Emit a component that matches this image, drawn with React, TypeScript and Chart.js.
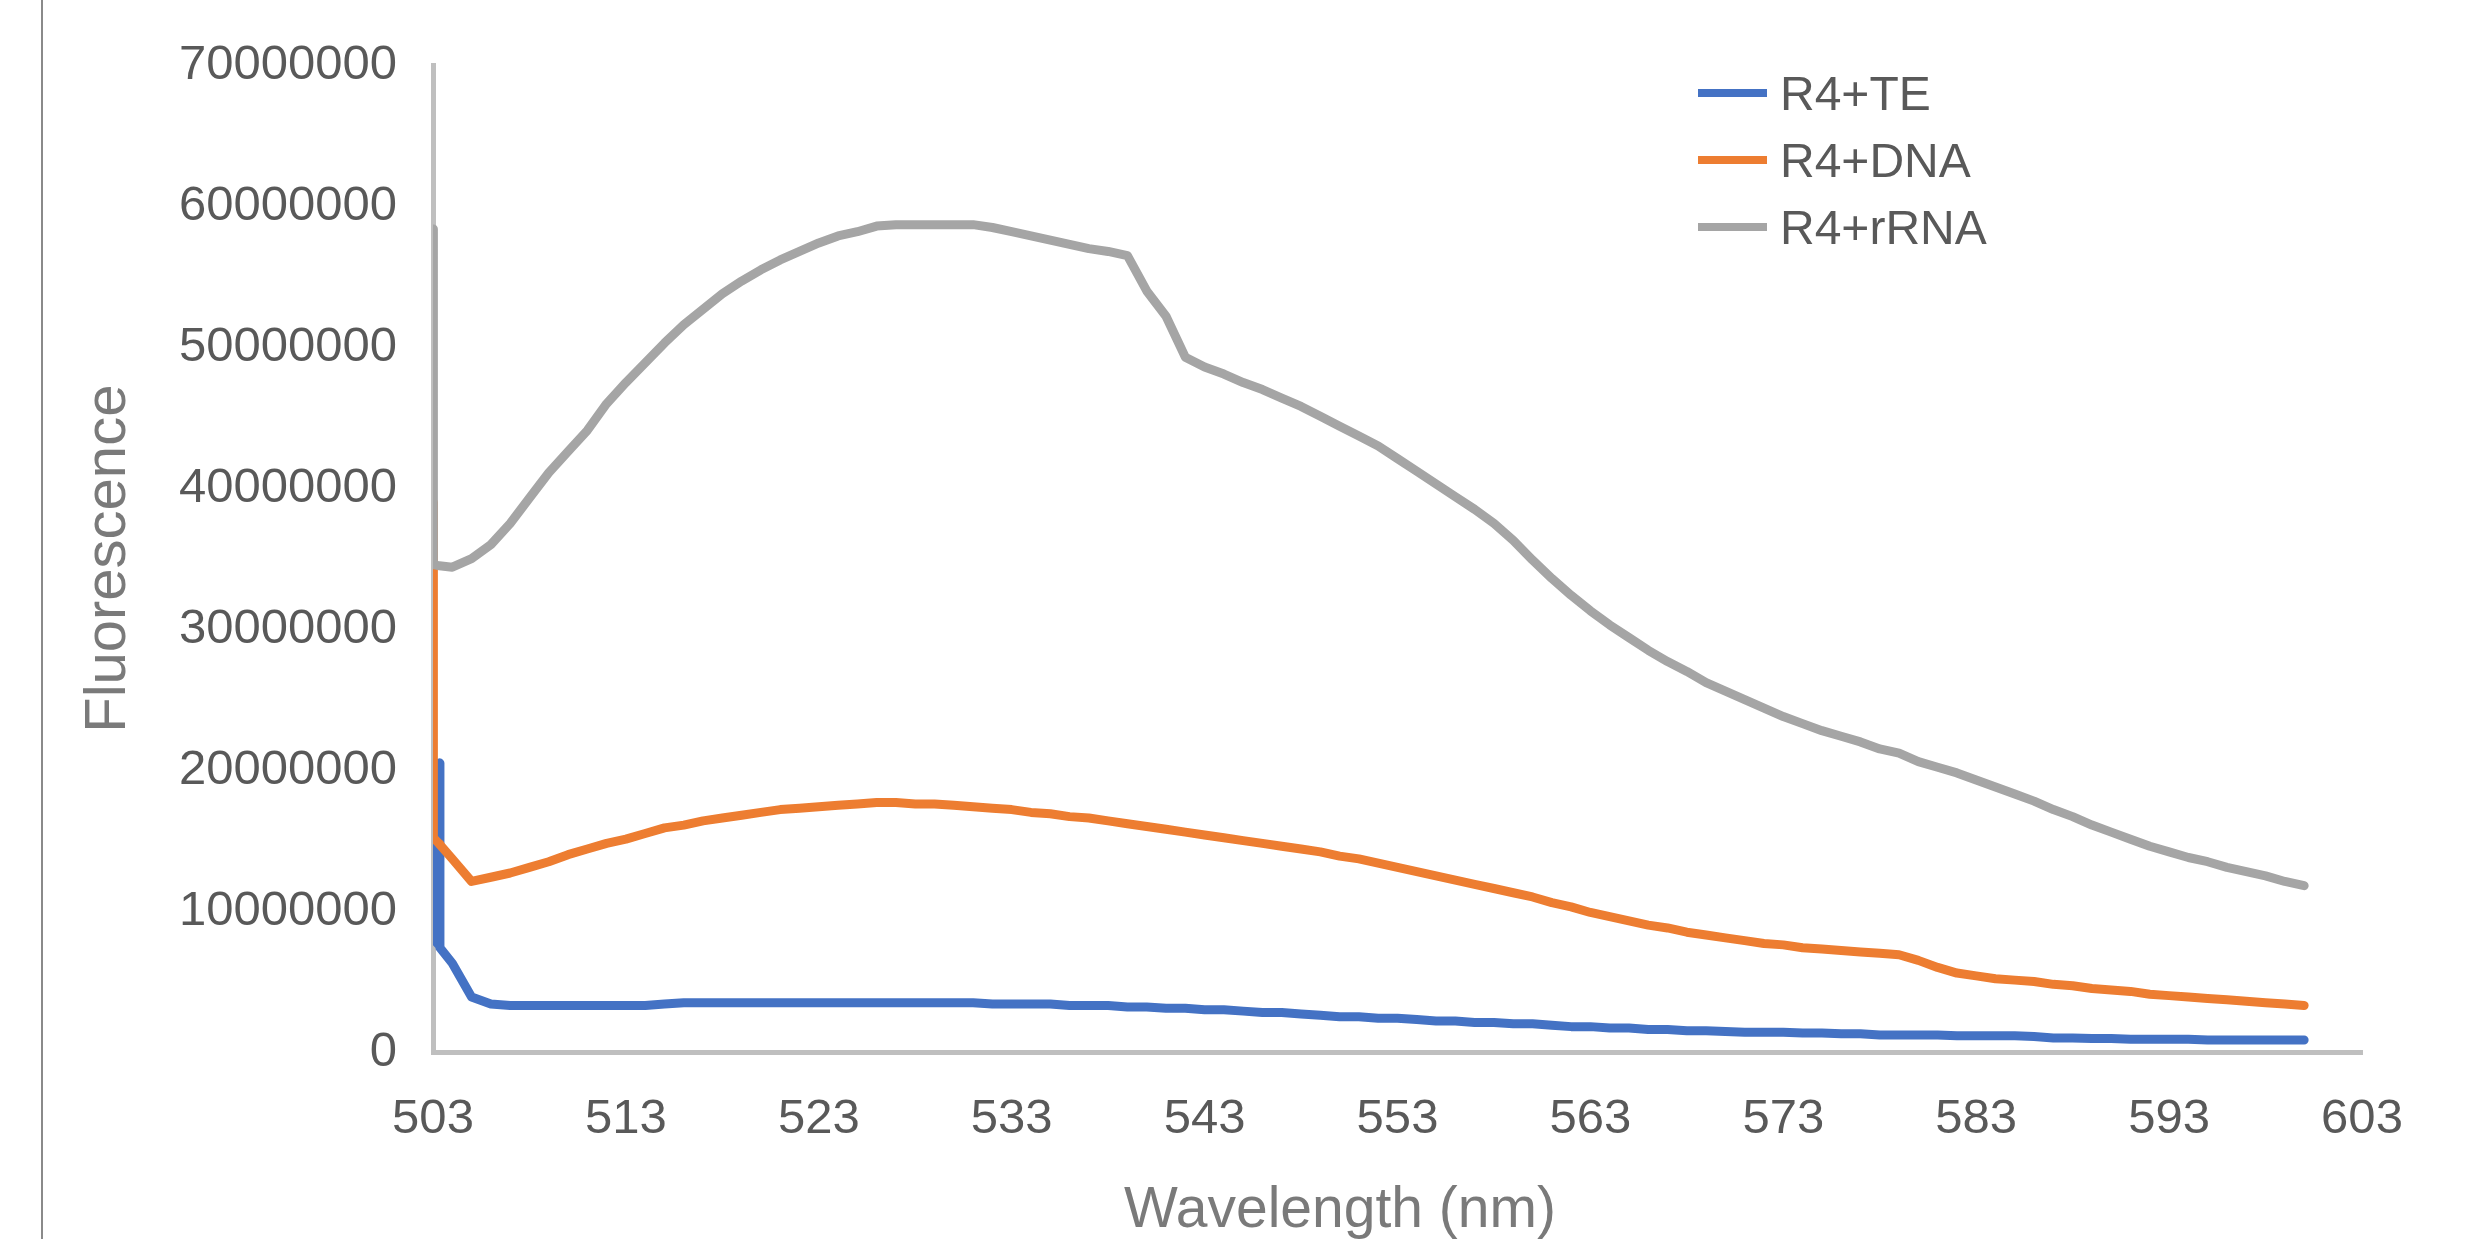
import React, { useEffect, useRef } from "react";
import { Chart, registerables } from "chart.js";

Chart.register(...registerables);

// Wavelength (nm) shared by all series
const wavelengths = [
  503, 503.02, 503.3, 503.33, 503.36,
  504, 505, 506, 507, 508, 509, 510, 511, 512, 513,
  514, 515, 516, 517, 518, 519, 520, 521, 522, 523,
  524, 525, 526, 527, 528, 529, 530, 531, 532, 533,
  534, 535, 536, 537, 538, 539, 540, 541, 542, 543,
  544, 545, 546, 547, 548, 549, 550, 551, 552, 553,
  554, 555, 556, 557, 558, 559, 560, 561, 562, 563,
  564, 565, 566, 567, 568, 569, 570, 571, 572, 573,
  574, 575, 576, 577, 578, 579, 580, 581, 582, 583,
  584, 585, 586, 587, 588, 589, 590, 591, 592, 593,
  594, 595, 596, 597, 598, 599, 600,
];

const seriesNames = ["R4+TE", "R4+DNA", "R4+rRNA"];

// Fluorescence values in millions
const teValues = [
  15.5, 8.0, 7.6, 20.5, 7.4,
  6.3, 3.9, 3.4, 3.3, 3.3, 3.3, 3.3, 3.3, 3.3, 3.3,
  3.3, 3.4, 3.5, 3.5, 3.5, 3.5, 3.5, 3.5, 3.5, 3.5,
  3.5, 3.5, 3.5, 3.5, 3.5, 3.5, 3.5, 3.5, 3.4, 3.4,
  3.4, 3.4, 3.3, 3.3, 3.3, 3.2, 3.2, 3.1, 3.1, 3.0,
  3.0, 2.9, 2.8, 2.8, 2.7, 2.6, 2.5, 2.5, 2.4, 2.4,
  2.3, 2.2, 2.2, 2.1, 2.1, 2.0, 2.0, 1.9, 1.8, 1.8,
  1.7, 1.7, 1.6, 1.6, 1.5, 1.5, 1.45, 1.4, 1.4, 1.4,
  1.35, 1.35, 1.3, 1.3, 1.2, 1.2, 1.2, 1.2, 1.15, 1.15,
  1.15, 1.15, 1.1, 1.0, 1.0, 0.95, 0.95, 0.9, 0.9, 0.9,
  0.9, 0.85, 0.85, 0.85, 0.85, 0.85, 0.85,
];

const dnaValues = [
  39.0, 15.2, 14.8, 14.75, 14.7,
  13.7, 12.1, 12.4, 12.7, 13.1, 13.5, 14.0, 14.4, 14.8, 15.1,
  15.5, 15.9, 16.1, 16.4, 16.6, 16.8, 17.0, 17.2, 17.3, 17.4,
  17.5, 17.6, 17.7, 17.7, 17.6, 17.6, 17.5, 17.4, 17.3, 17.2,
  17.0, 16.9, 16.7, 16.6, 16.4, 16.2, 16.0, 15.8, 15.6, 15.4,
  15.2, 15.0, 14.8, 14.6, 14.4, 14.2, 13.9, 13.7, 13.4, 13.1,
  12.8, 12.5, 12.2, 11.9, 11.6, 11.3, 11.0, 10.6, 10.3, 9.9,
  9.6, 9.3, 9.0, 8.8, 8.5, 8.3, 8.1, 7.9, 7.7, 7.6,
  7.4, 7.3, 7.2, 7.1, 7.0, 6.9, 6.5, 6.0, 5.6, 5.4,
  5.2, 5.1, 5.0, 4.8, 4.7, 4.5, 4.4, 4.3, 4.1, 4.0,
  3.9, 3.8, 3.7, 3.6, 3.5, 3.4, 3.3,
];

const rrnaValues = [
  58.4, 34.6, 34.5, 34.5, 34.5,
  34.4, 35.0, 36.0, 37.5, 39.3, 41.1, 42.6, 44.1, 46.0, 47.5,
  48.9, 50.3, 51.6, 52.7, 53.8, 54.7, 55.5, 56.2, 56.8, 57.4,
  57.9, 58.2, 58.6, 58.7, 58.7, 58.7, 58.7, 58.7, 58.5, 58.2,
  57.9, 57.6, 57.3, 57.0, 56.8, 56.5, 54.0, 52.2, 49.3, 48.6,
  48.1, 47.5, 47.0, 46.4, 45.8, 45.1, 44.4, 43.7, 43.0, 42.1,
  41.2, 40.3, 39.4, 38.5, 37.5, 36.3, 34.9, 33.6, 32.4, 31.3,
  30.3, 29.4, 28.5, 27.7, 27.0, 26.2, 25.6, 25.0, 24.4, 23.8,
  23.3, 22.8, 22.4, 22.0, 21.5, 21.2, 20.6, 20.2, 19.8, 19.3,
  18.8, 18.3, 17.8, 17.2, 16.7, 16.1, 15.6, 15.1, 14.6, 14.2,
  13.8, 13.5, 13.1, 12.8, 12.5, 12.1, 11.8,
];

const xTickValues = [503, 513, 523, 533, 543, 553, 563, 573, 583, 593, 603];
const yTickValues = [0, 10000000, 20000000, 30000000, 40000000, 50000000, 60000000, 70000000];

const seriesColors = ["#4472C4", "#ED7D31", "#A5A5A5"];
const FONT = "'Liberation Sans', Arial, sans-serif";

export default function App() {
  const canvasRef = useRef<HTMLCanvasElement | null>(null);

  useEffect(() => {
    const canvas = canvasRef.current;
    if (!canvas) return;
    const toPoints = (vals: number[]) =>
      wavelengths.map((w, i) => ({ x: w, y: vals[i] * 1e6 }));
    const allValues = [teValues, dnaValues, rrnaValues];
    const orders = [3, 2, 1];

    const chart = new Chart(canvas, {
      type: "line",
      data: {
        datasets: seriesNames.map((name, i) => ({
          label: name,
          data: toPoints(allValues[i]),
          borderColor: seriesColors[i],
          backgroundColor: seriesColors[i],
          borderWidth: 9,
          pointRadius: 0,
          tension: 0,
          fill: false,
          order: orders[i],
          borderJoinStyle: "round" as const,
          borderCapStyle: "round" as const,
        })),
      },
      options: {
        responsive: false,
        animation: false,
        devicePixelRatio: 1,
        layout: { padding: { left: 0, top: 65, right: 119, bottom: 0 } },
        plugins: {
          legend: { display: false },
          tooltip: { enabled: false },
        },
        scales: {
          x: {
            type: "linear",
            min: 503,
            max: 603,
            grid: { display: false, drawTicks: false },
            border: { display: true, color: "#BFBFBF", width: 5 },
            afterBuildTicks: (scale: any) => {
              scale.ticks = xTickValues.map((v) => ({ value: v }));
            },
            afterFit: (scale: any) => {
              scale.height = 187;
            },
            ticks: {
              autoSkip: false,
              maxRotation: 0,
              padding: 38,
              color: "#595959",
              font: { family: FONT, size: 49 },
              callback: (v: any) => String(v),
            },
          },
          y: {
            type: "linear",
            min: 0,
            max: 70000000,
            grid: { display: false, drawTicks: false },
            border: { display: true, color: "#BFBFBF", width: 5 },
            afterBuildTicks: (scale: any) => {
              scale.ticks = yTickValues.map((v) => ({ value: v }));
            },
            afterFit: (scale: any) => {
              scale.width = 433;
            },
            ticks: {
              autoSkip: false,
              padding: 36,
              color: "#595959",
              font: { family: FONT, size: 49 },
              callback: (v: any) => String(v),
            },
            title: {
              display: true,
              text: "Fluorescence",
              color: "#7a7a7a",
              font: { family: FONT, size: 58 },
              padding: { top: 74, bottom: 0 },
            },
          },
        },
      } as any,
    });
    return () => chart.destroy();
  }, []);

  const legendCenters = [93, 160, 227];

  return (
    <div
      style={{
        position: "fixed",
        left: 0,
        top: 0,
        width: 2481,
        height: 1239,
        background: "#ffffff",
        overflow: "hidden",
        fontFamily: FONT,
      }}
    >
      <canvas
        ref={canvasRef}
        width={2481}
        height={1239}
        style={{ display: "block", width: 2481, height: 1239 }}
      />
      <div
        style={{
          position: "absolute",
          left: 41,
          top: 0,
          width: 2,
          height: 1239,
          background: "#8a8a8a",
        }}
      />
      {seriesNames.map((name, i) => (
        <React.Fragment key={name}>
          <div
            style={{
              position: "absolute",
              left: 1698,
              top: legendCenters[i] - 4,
              width: 69,
              height: 8,
              background: seriesColors[i],
            }}
          />
          <div
            style={{
              position: "absolute",
              left: 1780,
              top: legendCenters[i] - 33.5,
              height: 67,
              lineHeight: "67px",
              fontSize: 48,
              color: "#595959",
              whiteSpace: "nowrap",
            }}
          >
            {name}
          </div>
        </React.Fragment>
      ))}
      <div
        style={{
          position: "absolute",
          left: 1340,
          top: 1179,
          transform: "translateX(-50%)",
          fontSize: 57,
          lineHeight: "57px",
          color: "#7a7a7a",
          whiteSpace: "nowrap",
        }}
      >
        Wavelength (nm)
      </div>
    </div>
  );
}
